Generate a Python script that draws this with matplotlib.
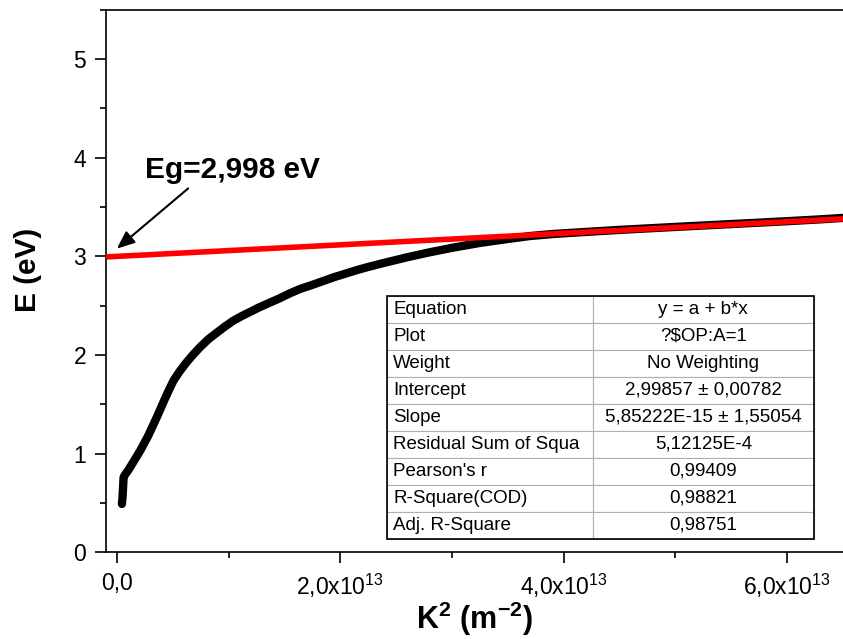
import numpy as np
import matplotlib
matplotlib.use('Agg')
import matplotlib.pyplot as plt
from matplotlib.ticker import MultipleLocator, FuncFormatter
from matplotlib.patches import Rectangle

plt.rcParams['font.family'] = ['Liberation Sans', 'DejaVu Sans']
plt.rcParams['mathtext.fontset'] = 'custom'
plt.rcParams['mathtext.rm'] = 'Liberation Sans'
plt.rcParams['mathtext.it'] = 'Liberation Sans:italic'
plt.rcParams['mathtext.bf'] = 'Liberation Sans:bold'

# measured curve, E vs K^2 (x in 1e13 m^-2)
k2 = [0.045, 0.05, 0.055, 0.06, 0.075, 0.104, 0.15, 0.209, 0.28, 0.358, 0.42,
      0.46, 0.507, 0.56, 0.62, 0.68, 0.746, 0.82, 0.9, 0.97, 1.044, 1.12, 1.2,
      1.27, 1.343, 1.45, 1.55, 1.641, 1.75, 1.85, 1.939, 2.05, 2.15, 2.238,
      2.4, 2.6, 2.8, 3.0, 3.25, 3.5, 3.7, 3.9, 4.15, 4.5, 5.0, 5.5, 6.0, 6.3, 6.5]
energy = [0.49, 0.55, 0.65, 0.76, 0.79, 0.835, 0.92, 1.03, 1.18, 1.37, 1.53,
          1.63, 1.74, 1.83, 1.92, 2.0, 2.08, 2.16, 2.23, 2.29, 2.348, 2.395, 2.44,
          2.48, 2.517, 2.57, 2.625, 2.669, 2.71, 2.75, 2.786, 2.825, 2.86, 2.888,
          2.935, 2.99, 3.04, 3.085, 3.135, 3.175, 3.205, 3.225, 3.243, 3.267,
          3.297, 3.326, 3.355, 3.374, 3.388]
k2 = np.array(k2) * 1e13

# linear fit
intercept = 2.99857
slope = 5.85222e-15
fit_x = [-0.1e13, 6.5e13]

table_labels = ['Equation', 'Plot', 'Weight', 'Intercept', 'Slope',
                'Residual Sum of Squa', "Pearson's r", 'R-Square(COD)', 'Adj. R-Square']
table_values = ['y = a + b*x', '?$OP:A=1', 'No Weighting', '2,99857 ± 0,00782',
                '5,85222E-15 ± 1,55054', '5,12125E-4', '0,99409', '0,98821', '0,98751']

fig = plt.figure(figsize=(8.43, 6.39), dpi=100)
ax = fig.add_axes([0.1254, 0.1357, 0.8746, 0.8494])

ax.plot(k2, energy, color='black', lw=6, solid_capstyle='round',
        solid_joinstyle='round', zorder=2)
fit_y = [intercept + slope * x for x in fit_x]
ax.plot(fit_x, fit_y, color='#ff0000', lw=4, zorder=3)

ax.set_xlim(-0.1e13, 6.5e13)
ax.set_ylim(0, 5.5)

ax.xaxis.set_major_locator(MultipleLocator(2e13))
ax.xaxis.set_minor_locator(MultipleLocator(1e13))
ax.yaxis.set_major_locator(MultipleLocator(1))
ax.yaxis.set_minor_locator(MultipleLocator(0.5))


def fmt_x(v, pos):
    if abs(v) < 1e6:
        return '0,0'
    m = v / 1e13
    return r'$\mathrm{%d{,}0x10^{13}}$' % round(m)


ax.xaxis.set_major_formatter(FuncFormatter(fmt_x))
ax.tick_params(which='major', direction='out', length=8, width=1.2,
               labelsize=16.5, pad=6)
ax.tick_params(which='minor', direction='out', length=4, width=1.2)
ax.spines['right'].set_visible(False)
for s in ['left', 'bottom', 'top']:
    ax.spines[s].set_linewidth(1.2)

ax.set_xlabel(r'$\mathbf{K^{2}\ (m^{-2})}$', fontsize=22)
ax.set_ylabel('E (eV)', fontsize=21.5, fontweight='bold')
ax.xaxis.set_label_coords(0.5, -0.087)
ax.yaxis.set_label_coords(-0.087, 0.52)

ax.annotate('', xy=(0, 3.077), xytext=(0.638e13, 3.687),
            arrowprops=dict(arrowstyle='-|>,head_length=0.6,head_width=0.25',
                            color='black', lw=1.5, mutation_scale=18,
                            shrinkA=0, shrinkB=0))
ax.text(1.03e13, 3.795, 'Eg=2,998 eV', fontsize=21.5, fontweight='bold',
        ha='center', va='baseline')

cell_text = [[a, b] for a, b in zip(table_labels, table_values)]
tb = ax.table(cellText=cell_text, colWidths=[0.482, 0.518],
              bbox=[0.3815, 0.0245, 0.579, 0.4477], zorder=5)
tb.auto_set_font_size(False)
tb.set_fontsize(13.5)
for (r, c), cell in tb.get_celld().items():
    cell.set_edgecolor('#b0b0b0')
    cell.set_linewidth(0.8)
    cell.PAD = 0.03
    cell._loc = 'left' if c == 0 else 'center'
    cell.get_text().set_ha('left' if c == 0 else 'center')
ax.add_patch(Rectangle((0.3815, 0.0245), 0.579, 0.4477, transform=ax.transAxes,
                       fill=False, edgecolor='black', lw=1.2, zorder=6))

fig.savefig('out.png', dpi=100)
